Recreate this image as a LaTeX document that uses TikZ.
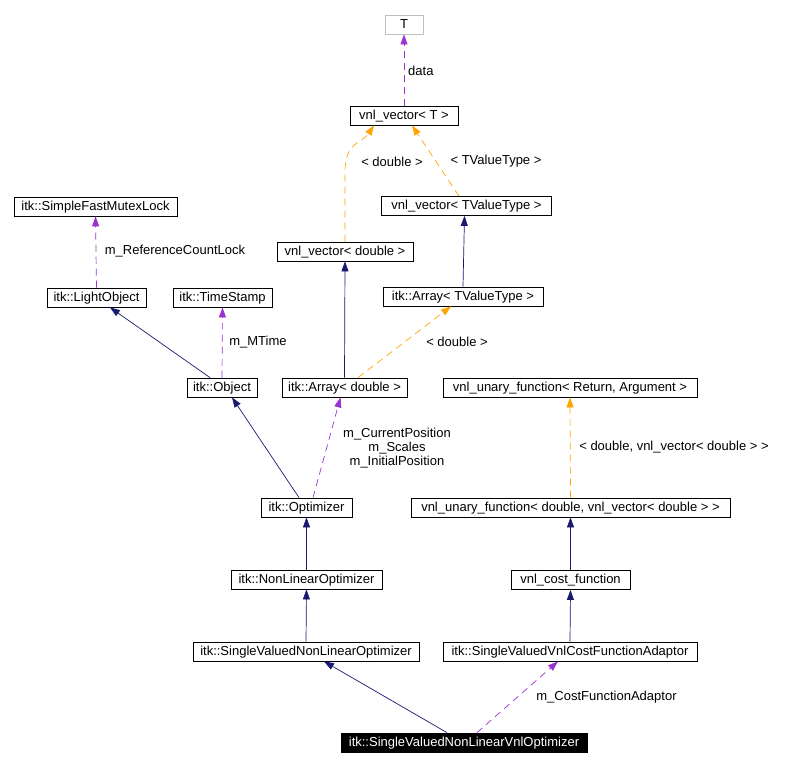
\documentclass[tikz,border=0pt]{standalone}
\usepackage{fontspec}
\setmainfont{Liberation Sans}
\usetikzlibrary{arrows.meta}
\definecolor{nav}{HTML}{191970}
\definecolor{pur}{HTML}{9A32CD}
\definecolor{org}{HTML}{FFA500}
\definecolor{gry}{HTML}{BFBFBF}
\tikzset{
  cls/.style={draw=black, rectangle, line width=0.8pt, inner sep=0pt, minimum height=19pt,
    font=\fontsize{13}{15}\selectfont, text height=9.5pt, text depth=2.5pt},
  lbl/.style={inner sep=0pt, font=\fontsize{13}{14}\selectfont, align=center},
  tip/.style={-{Triangle[length=10pt,width=7pt]}},
  inh/.style={draw=nav, line width=0.7pt, tip},
  usage/.style={draw=pur, line width=0.7pt, dash pattern=on 7pt off 5pt, tip},
  tmpl/.style={draw=org, line width=0.7pt, dash pattern=on 7pt off 5pt, tip}
}
\begin{document}
\begin{tikzpicture}[x=1pt,y=-1pt]
\useasboundingbox (0,0) rectangle (790,766);
% nodes
\node[cls, draw=gry, minimum width=38] (T) at (404,24.5) {T};
\node[cls, minimum width=108] (vT) at (404,115.5) {vnl\_vector< T >};
\node[cls, minimum width=170] (vTV) at (466.5,206) {vnl\_vector< TValueType >};
\node[cls, minimum width=136] (vd) at (345,251.5) {vnl\_vector< double >};
\node[cls, minimum width=163] (sfml) at (95.5,206.5) {itk::SimpleFastMutexLock};
\node[cls, minimum width=99] (lo) at (96.5,297.5) {itk::LightObject};
\node[cls, minimum width=99] (ts) at (222.5,297.5) {itk::TimeStamp};
\node[cls, minimum width=70] (obj) at (222,387.5) {itk::Object};
\node[cls, minimum width=160] (aTV) at (463,296.5) {itk::Array< TValueType >};
\node[cls, minimum width=125] (ad) at (344.5,387.5) {itk::Array< double >};
\node[cls, minimum width=254] (vuRA) at (570,387.5) {vnl\_unary\_function< Return, Argument >};
\node[cls, minimum width=319] (vud) at (570.5,507.5) {vnl\_unary\_function< double, vnl\_vector< double > >};
\node[cls, minimum width=91] (opt) at (306.5,507.5) {itk::Optimizer};
\node[cls, minimum width=151] (nlo) at (306.5,579.5) {itk::NonLinearOptimizer};
\node[cls, minimum width=226] (svnlo) at (306,651.5) {itk::SingleValuedNonLinearOptimizer};
\node[cls, minimum width=119] (vcf) at (570.5,580) {vnl\_cost\_function};
\node[cls, minimum width=254] (svcfa) at (570,651.5) {itk::SingleValuedVnlCostFunctionAdaptor};
\node[cls, fill=black, text=white, minimum width=246] (main) at (464,742.5) {itk::SingleValuedNonLinearVnlOptimizer};
% edges
\draw[usage] (vT.north) -- (T.south);
\draw[tmpl] (vd.north) -- ([yshift=70pt]vd.north) .. controls ([yshift=100pt]vd.north) and ([xshift=-42pt,yshift=-18pt]vT.south) .. ([xshift=-30pt]vT.south);
\draw[tmpl] ([xshift=-7.5pt]vTV.north) -- ([xshift=8pt]vT.south);
\draw[inh] (aTV.north) -- ([xshift=-2pt]vTV.south);
\draw[inh] (ad.north) -- (vd.south);
\draw[tmpl] ([xshift=13.5pt]ad.north) -- ([xshift=-12pt]aTV.south);
\draw[usage] (lo.north) -- (sfml.south);
\draw[inh] ([xshift=-12pt]obj.north) -- ([xshift=13.5pt]lo.south);
\draw[usage] (obj.north) -- (ts.south);
\draw[inh] ([xshift=-7.5pt]opt.north) -- ([xshift=10pt]obj.south);
\draw[usage] ([xshift=6.5pt]opt.north) -- ([xshift=-4pt]ad.south);
\draw[inh] (nlo.north) -- (opt.south);
\draw[inh] (svnlo.north) -- (nlo.south);
\draw[tmpl] (vud.north) -- (vuRA.south);
\draw[inh] (vcf.north) -- (vud.south);
\draw[inh] (svcfa.north) -- (vcf.south);
\draw[inh] ([xshift=-17pt]main.north) -- ([xshift=18pt]svnlo.south);
\draw[usage] ([xshift=13pt]main.north) -- ([xshift=-12pt]svcfa.south);
% labels
\node[lbl, anchor=west] (l1) at (408,71) {data};
\node[lbl] (l2) at (392,161.5) {< double >};
\node[lbl] (l3) at (496,161.5) {< TValueType >};
\node[lbl] (l4) at (175,251.5) {m\_ReferenceCountLock};
\node[lbl] (l5) at (258,342.5) {m\_MTime};
\node[lbl] (l6) at (457,342) {< double >};
\node[lbl] (l7) at (397,448) {m\_CurrentPosition\\m\_Scales\\m\_InitialPosition};
\node[lbl] (l8) at (674,447.5) {< double, vnl\_vector< double > >};
\node[lbl] (l9) at (606.5,697) {m\_CostFunctionAdaptor};
\end{tikzpicture}
\end{document}
